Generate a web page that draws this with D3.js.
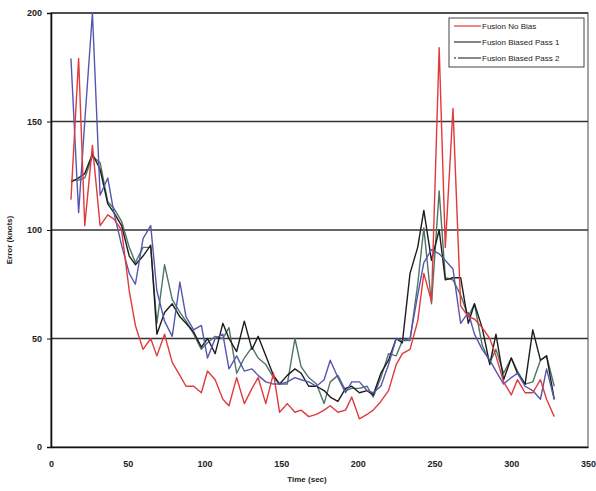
<!DOCTYPE html>
<html>
<head>
<meta charset="utf-8">
<script src="https://cdn.jsdelivr.net/npm/d3@7"></script>
<style>
  body { margin: 0; background: #fff; }
  svg text { font-family: "Liberation Sans", Arial, sans-serif; font-weight: bold; fill: #222; }
</style>
</head>
<body>
<svg id="chart" width="596" height="491"></svg>
<script>
// sample times (sec)
var times = [13,18,22,27,32,37,41,46,51,55,60,65,69,74,79,84,88,93,98,102,107,112,116,121,126,131,135,140,145,149,154,159,163,168,173,178,182,187,192,196,201,206,210,215,220,225,229,234,239,243,248,253,257,262,267,272,276,281,286,290,295,300,304,309,314,319,323,328]

var noBias = [114,179,102,139,102,107,105,100,72,56,45,50,42,52,39,33,28,28,25,35,31,22,19,32,20,27,32,20,34,16,20,16,17,14,15,17,19,16,17,23,13,15,17,21,26,38,43,45,58,80,67,184,92,156,65,60,59,55,50,42,30,24,31,25,25,31,22,14]

var pass1 = [179,108,150,200,116,124,108,93,80,75,96,102,72,58,51,76,60,54,56,41,50,52,36,42,35,36,33,30,29,29,30,32,31,30,28,31,40,32,25,30,30,26,25,28,38,50,49,50,70,85,91,89,86,82,57,62,52,45,40,35,29,32,34,28,26,22,36,22]

var pass2 = [122,124,126,135,128,112,108,102,88,84,88,93,52,62,66,60,57,53,46,50,43,57,50,44,58,45,51,42,33,29,33,36,34,28,28,26,23,21,27,28,25,26,24,34,40,50,48,80,92,109,86,100,77,78,78,57,66,55,38,52,31,41,34,29,54,40,42,22]

// unlabelled fourth trace
var pass2b = [123,123,124,134,131,113,110,104,92,85,92,92,57,84,68,62,58,52,45,48,51,50,55,34,41,46,41,38,32,29,29,50,37,32,29,20,30,33,26,27,27,28,23,32,43,42,49,49,75,101,66,118,78,77,70,60,66,47,39,45,34,41,35,29,30,40,42,28]

var legendLabels = ['Fusion No Bias', 'Fusion Biased Pass 1', 'Fusion Biased Pass 2']
var xTicks = [0,50,100,150,200,250,300,350]
var yTicks = [0,50,100,150,200]

var svg = d3.select('#chart')
var x = d3.scaleLinear().domain([0, 350]).range([51, 588])
var y = d3.scaleLinear().domain([0, 200]).range([447, 13])

// frame
svg.append('rect')
  .attr('x', 51).attr('y', 13).attr('width', 537).attr('height', 434)
  .attr('fill', 'none').attr('stroke', '#666').attr('stroke-width', 1.2)

// horizontal grid
svg.selectAll('line.grid').data([50, 100, 150, 200])
  .enter().append('line').classed('grid', true)
  .attr('x1', 51).attr('x2', 588)
  .attr('y1', function(d) { return y(d) }).attr('y2', function(d) { return y(d) })
  .attr('stroke', '#333').attr('stroke-width', 1.3)

var yAxis = svg.append('g').attr('transform', 'translate(51,0)')
  .call(d3.axisLeft(y).tickValues(yTicks).tickSize(4).tickPadding(5))
var xAxis = svg.append('g').attr('transform', 'translate(0,447)')
  .call(d3.axisBottom(x).tickValues(xTicks).tickSize(0).tickPadding(14))

;[yAxis, xAxis].forEach(function(ax) {
  ax.select('.domain').attr('stroke', '#111').attr('stroke-width', 1.6)
  ax.selectAll('.tick line').attr('stroke', '#111')
  ax.selectAll('text').style('font-size', '9px').attr('fill', '#222')
})

var line = d3.line()
  .x(function(d, i) { return x(times[i]) })
  .y(function(d) { return y(d) })

var series = [
  { data: pass2b, color: '#4e7464' },
  { data: pass2, color: '#1d1d1d' },
  { data: pass1, color: '#5656b0' },
  { data: noBias, color: '#e03a3c' }
]

svg.selectAll('path.trace').data(series)
  .enter().append('path').classed('trace', true)
  .attr('d', function(s) { return line(s.data) })
  .attr('fill', 'none')
  .attr('stroke', function(s) { return s.color })
  .attr('stroke-width', 1.4)
  .attr('stroke-linejoin', 'round')

// axis titles
svg.append('text').attr('x', 307).attr('y', 482)
  .attr('text-anchor', 'middle').style('font-size', '8px').text('Time (sec)')
svg.append('text')
  .attr('transform', 'translate(12,240) rotate(-90)')
  .attr('text-anchor', 'middle').style('font-size', '8px').text('Error (knots)')

// legend
var legend = svg.append('g').attr('transform', 'translate(449,18)')
legend.append('rect').attr('width', 135).attr('height', 49)
  .attr('fill', '#fff').attr('stroke', '#444').attr('stroke-width', 1)
var legendColors = ['#e03a3c', '#333', '#111']
var items = legend.selectAll('g.item').data(legendLabels)
  .enter().append('g').classed('item', true)
  .attr('transform', function(d, i) { return 'translate(0,' + (8 + i * 16) + ')' })
items.append('line')
  .attr('x1', 5).attr('x2', 32)
  .attr('stroke', function(d, i) { return legendColors[i] })
  .attr('stroke-width', 1.2)
  .attr('stroke-dasharray', function(d, i) { return i === 2 ? '2,2,30' : null })
items.append('text').attr('x', 33).attr('y', 3)
  .style('font-size', '8px').style('font-weight', 'normal').text(function(d) { return d })
</script>
</body>
</html>
